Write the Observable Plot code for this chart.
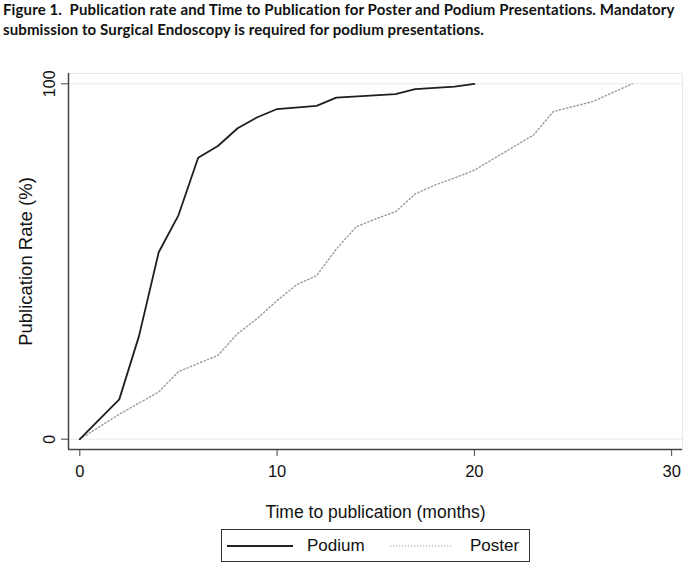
<!DOCTYPE html>
<html>
<head>
<meta charset="utf-8">
<script src="https://cdn.jsdelivr.net/npm/d3@7"></script>
<script src="https://cdn.jsdelivr.net/npm/@observablehq/plot@0.6"></script>
<style>
  html, body { margin: 0; padding: 0; background: #fff; }
  #page { position: relative; width: 685px; height: 565px; overflow: hidden; }
  #title { position: absolute; left: 3px; top: -1px; width: 684px; font-family: Lato, "Open Sans", sans-serif; font-weight: bold; font-size: 15px; letter-spacing: 0.12px; line-height: 20px; color: #111; white-space: nowrap; }
  #chart { position: absolute; left: 0; top: 40px; }
  #legend { position: absolute; left: 221px; top: 529px; width: 307px; height: 31px; border: 1px solid #333; box-sizing: content-box; font-family: "Liberation Sans", Arial, sans-serif; font-size: 17px; color: #111; }
  #legend .item { position: absolute; top: 0; height: 31px; display: flex; align-items: center; }
  #legend svg { display: block; }
</style>
</head>
<body>
<div id="page">
  <div id="title">Figure 1.&nbsp; Publication rate and Time to Publication for Poster and Podium Presentations. Mandatory<br>submission to Surgical Endoscopy is required for podium presentations.</div>
  <div id="chart"></div>
  <div id="legend">
    <div class="item" style="left:5px"><svg width="66" height="4"><line x1="0" x2="66" y1="2" y2="2" stroke="#222" stroke-width="2"/></svg><span style="margin-left:14px">Podium</span></div>
    <div class="item" style="left:168px"><svg width="62" height="4"><line x1="0" x2="62" y1="2" y2="2" stroke="#999" stroke-width="1.2" stroke-dasharray="1.2 1.8"/></svg><span style="margin-left:18px">Poster</span></div>
  </div>
</div>
<script>
// Data
const podiumMonths = [0, 2, 3, 4, 5, 6, 7, 8, 9, 10, 12, 13, 16, 17, 19, 20];
const podiumRate   = [0, 11.2, 29, 52.6, 63, 79.2, 82.5, 87.5, 90.6, 92.9, 93.8, 96.1, 97.1, 98.5, 99.2, 100];
const posterMonths = [0, 2, 4, 5, 6, 7, 8, 9, 10, 11, 12, 13, 14, 15, 16, 17, 18, 19, 20, 21, 22, 23, 24, 25, 26, 27, 28];
const posterRate   = [0, 7, 13.3, 19, 21.3, 23.6, 29.7, 34, 39, 43.5, 46, 53.5, 59.7, 62, 64, 69, 71.5, 73.5, 75.7, 79, 82.3, 85.6, 92.2, 93.6, 95, 97.5, 100];
const xTicks = [0, 10, 20, 30];
const yTicks = [0, 100];
const xDomain = [-0.573, 30.55];
const yDomain = [-2.9, 102.9];

const podium = podiumMonths.map((m, i) => ({month: m, rate: podiumRate[i]}));
const poster = posterMonths.map((m, i) => ({month: m, rate: posterRate[i]}));

const chart = Plot.plot({
  width: 685,
  height: 488,
  marginLeft: 68,
  marginRight: 3,
  marginTop: 33,
  marginBottom: 79,
  style: {fontFamily: "'Liberation Sans', Arial, sans-serif", fontSize: "16px", color: "#111", background: "transparent"},
  x: {domain: xDomain},
  y: {domain: yDomain},
  marks: [
    Plot.frame({stroke: "#e3eced", strokeWidth: 1}),
    Plot.gridY(yTicks, {stroke: "#e3eced", strokeOpacity: 1, strokeWidth: 1}),
    Plot.ruleX([xDomain[0]], {stroke: "#444", strokeWidth: 1.5}),
    Plot.ruleY([yDomain[0]], {stroke: "#444", strokeWidth: 1.5}),
    Plot.axisX({ticks: xTicks, tickSize: 7, tickPadding: 9, stroke: "#444", fontSize: 16.5, label: null}),
    Plot.axisX({ticks: [], label: "Time to publication (months)", labelAnchor: "center", labelArrow: "none", labelOffset: 68, fontSize: 17.5}),
    Plot.axisY({ticks: yTicks, tickSize: 7, tickPadding: 7, tickRotate: -90, stroke: "#444", fontSize: 16, label: null}),
    Plot.axisY({ticks: [], label: "Publication Rate (%)", labelAnchor: "center", labelArrow: "none", labelOffset: 50, fontSize: 18.5}),
    Plot.line(poster, {x: "month", y: "rate", stroke: "#999", strokeWidth: 1.4, strokeDasharray: "1.3 2.4"}),
    Plot.line(podium, {x: "month", y: "rate", stroke: "#1e1e1e", strokeWidth: 1.8})
  ]
});
document.getElementById("chart").appendChild(chart);
</script>
</body>
</html>
